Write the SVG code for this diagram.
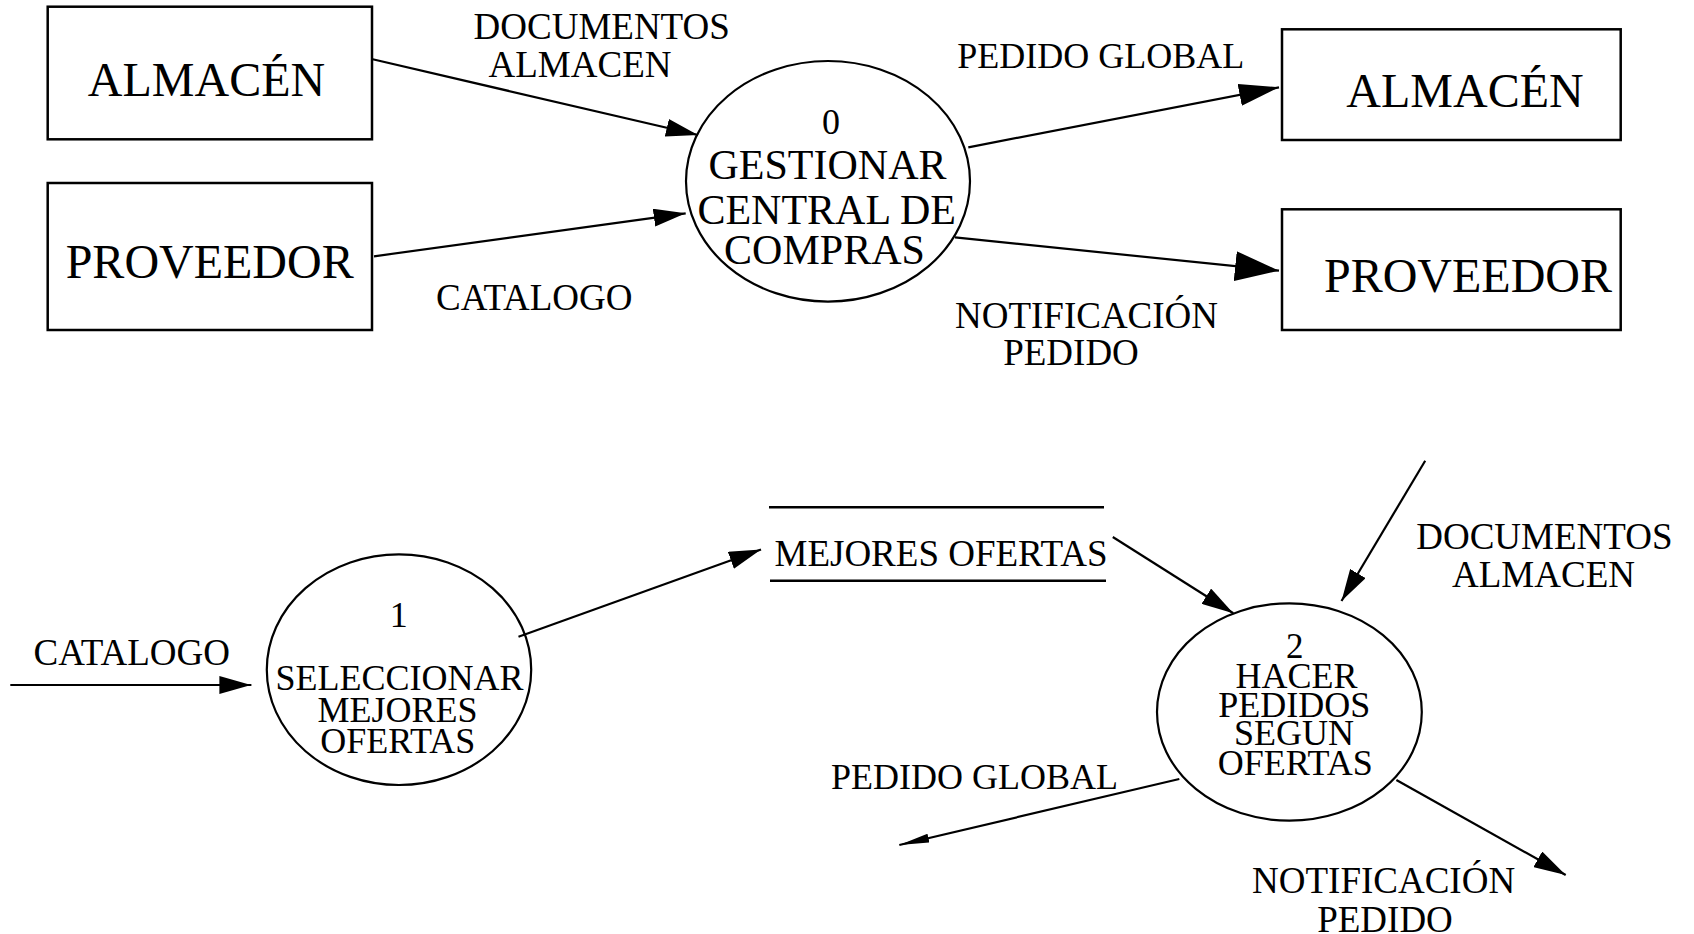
<svg xmlns="http://www.w3.org/2000/svg" width="1694" height="934" viewBox="0 0 1694 934">
  <style>
    text { font-family: "Liberation Serif", "Times New Roman", serif; fill: #000; text-anchor: middle; }
    .entity rect { fill: #fff; stroke: #000; stroke-width: 2.5; }
    .process ellipse { fill: #fff; stroke: #000; stroke-width: 2.2; }
    .store line { stroke: #000; stroke-width: 2.5; }
    .big { font-size: 48px; }
    .lbl { font-size: 37px; }
    #connectors line { stroke: #000; stroke-width: 2.2; fill: none; }
  </style>
  <defs>
    <marker id="ah" markerUnits="userSpaceOnUse" markerWidth="32" markerHeight="18" refX="32" refY="9" orient="auto">
      <path d="M0,0 L32,9 L0,18 z" fill="#000"/>
    </marker>
    <marker id="ahMid" markerUnits="userSpaceOnUse" markerWidth="40" markerHeight="22" refX="40" refY="11" orient="auto">
      <path d="M0,0 L40,11 L0,22 z" fill="#000"/>
    </marker>
    <marker id="ahBig" markerUnits="userSpaceOnUse" markerWidth="44" markerHeight="30" refX="44" refY="15" orient="auto">
      <path d="M0,0 L44,15 L0,30 z" fill="#000"/>
    </marker>
    <marker id="ahThin" markerUnits="userSpaceOnUse" markerWidth="30" markerHeight="9" refX="30" refY="4.5" orient="auto">
      <path d="M0,0 L30,4.5 L0,9 z" fill="#000"/>
    </marker>
  </defs>

  <rect width="1694" height="934" fill="#fff"/>

  <!-- context diagram -->
  <g id="almacen-in" class="entity">
    <rect x="47.7" y="6.7" width="324.3" height="132.6"/>
    <text class="big" x="206.5" y="95.7">ALMACÉN</text>
  </g>
  <g id="proveedor-in" class="entity">
    <rect x="47.7" y="183" width="324.3" height="147"/>
    <text class="big" x="209.7" y="278.3">PROVEEDOR</text>
  </g>
  <g id="proceso-0" class="process">
    <ellipse cx="828" cy="181.3" rx="142" ry="120.3"/>
    <text x="831" y="134.3" font-size="36">0</text>
    <text x="827.5" y="179" font-size="42">GESTIONAR</text>
    <text x="826.7" y="224.3" font-size="42">CENTRAL DE</text>
    <text x="824.5" y="264.3" font-size="42">COMPRAS</text>
  </g>
  <g id="almacen-out" class="entity">
    <rect x="1282" y="29.3" width="338.7" height="110.7"/>
    <text class="big" x="1465" y="107.3">ALMACÉN</text>
  </g>
  <g id="proveedor-out" class="entity">
    <rect x="1282" y="209.3" width="338.7" height="120.7"/>
    <text class="big" x="1468" y="292.3">PROVEEDOR</text>
  </g>

  <!-- level 1 diagram -->
  <g id="proceso-1" class="process">
    <ellipse cx="399" cy="669.7" rx="132.2" ry="115.3"/>
    <text x="398.8" y="626.7" font-size="36">1</text>
    <text x="399.4" y="690" font-size="36">SELECCIONAR</text>
    <text x="397.5" y="721.7" font-size="36">MEJORES</text>
    <text x="397.7" y="753.3" font-size="36">OFERTAS</text>
  </g>
  <g id="almacen-ofertas" class="store">
    <line x1="769" y1="507.3" x2="1104" y2="507.3"/>
    <line x1="770" y1="580.7" x2="1106" y2="580.7"/>
    <text class="lbl" x="941" y="566">MEJORES OFERTAS</text>
  </g>
  <g id="proceso-2" class="process">
    <ellipse cx="1289.4" cy="712" rx="132.4" ry="108.7"/>
    <text x="1294.7" y="658.3" font-size="35">2</text>
    <text x="1296.6" y="688.3" font-size="36">HACER</text>
    <text x="1294.3" y="717.3" font-size="36">PEDIDOS</text>
    <text x="1294" y="745" font-size="36">SEGUN</text>
    <text x="1295.2" y="775" font-size="36">OFERTAS</text>
  </g>

  <!-- data flows -->
  <g id="connectors">
    <line x1="372.7" y1="59.3" x2="698" y2="135" marker-end="url(#ah)"/>
    <line x1="374" y1="256.3" x2="685.7" y2="213.3" marker-end="url(#ah)"/>
    <line x1="968.3" y1="147.3" x2="1279" y2="87.3" marker-end="url(#ahMid)"/>
    <line x1="955" y1="237.3" x2="1279" y2="270.7" marker-end="url(#ahBig)"/>
    <line x1="10.3" y1="685" x2="251.4" y2="685" marker-end="url(#ah)"/>
    <line x1="518.5" y1="636.7" x2="761" y2="549.5" marker-end="url(#ah)"/>
    <line x1="1112.8" y1="537" x2="1233.3" y2="613.3" marker-end="url(#ah)"/>
    <line x1="1425.2" y1="460.7" x2="1341.5" y2="601" marker-end="url(#ah)"/>
    <line x1="1179.3" y1="779" x2="899.3" y2="845" marker-end="url(#ahThin)"/>
    <line x1="1396.4" y1="780" x2="1565.7" y2="875" marker-end="url(#ah)"/>
  </g>

  <!-- flow labels -->
  <g id="flow-labels">
    <text class="lbl" x="601.7" y="39">DOCUMENTOS</text>
    <text class="lbl" x="580" y="76.7">ALMACEN</text>
    <text class="lbl" x="534.3" y="310">CATALOGO</text>
    <text x="1100.8" y="68.3" font-size="36">PEDIDO GLOBAL</text>
    <text class="lbl" x="1086.5" y="327.7">NOTIFICACIÓN</text>
    <text class="lbl" x="1071" y="365">PEDIDO</text>
    <text class="lbl" x="131.7" y="665">CATALOGO</text>
    <text x="974.6" y="788.5" font-size="36">PEDIDO GLOBAL</text>
    <text class="lbl" x="1544.4" y="549.3">DOCUMENTOS</text>
    <text class="lbl" x="1543.5" y="586.7">ALMACEN</text>
    <text class="lbl" x="1383.6" y="893.3">NOTIFICACIÓN</text>
    <text class="lbl" x="1385" y="932">PEDIDO</text>
  </g>
</svg>
